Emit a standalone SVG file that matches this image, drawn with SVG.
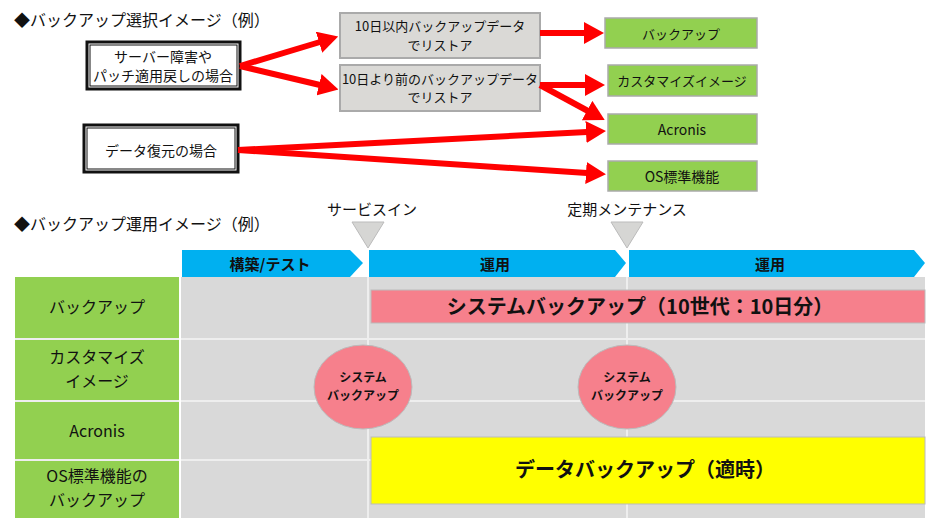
<svg xmlns="http://www.w3.org/2000/svg" width="930" height="524" viewBox="0 0 930 524">
<style>
text{font-family:"Noto Sans CJK JP","Liberation Sans",sans-serif;fill:#111}
.t{font-size:16px}
.s{font-size:13px;text-anchor:middle}
.m{font-size:14px;text-anchor:middle}
.l{font-size:16px;text-anchor:middle}
.g{fill:#dad9d6;stroke:#aaa;stroke-width:2}
.gr{fill:#92d050;stroke:#aaa;stroke-width:1.5}
.b{font-weight:bold;text-anchor:middle}
.a{stroke:#f00;stroke-width:6;fill:none}
</style>
<defs><marker id="ah" markerWidth="20" markerHeight="22" refX="1" refY="11" orient="auto" markerUnits="userSpaceOnUse"><path d="M0,0L20,11L0,22z" fill="#f00"/></marker></defs>
<rect width="930" height="524" fill="#fff"/>
<text class="t" x="14" y="26">◆バックアップ選択イメージ（例）</text>
<g id="n1"><rect x="87" y="42" width="153" height="47" fill="#fff" stroke="#111" stroke-width="3"/><rect x="90" y="45" width="147" height="41" fill="none" stroke="#111" stroke-width="1"/><text class="m" x="163" y="62">サーバー障害や</text><text class="m" x="163" y="81">パッチ適用戻しの場合</text></g>
<g id="n2"><rect x="84" y="125" width="154" height="47" fill="#fff" stroke="#111" stroke-width="3"/><rect x="87" y="128" width="148" height="41" fill="none" stroke="#111" stroke-width="1"/><text class="m" x="161" y="156">データ復元の場合</text></g>
<g id="n3"><rect class="g" x="340" y="13" width="200" height="45"/><text class="s" x="440" y="31">10日以内バックアップデータ</text><text class="s" x="440" y="50">でリストア</text></g>
<g id="n4"><rect class="g" x="340" y="65" width="200" height="46"/><text class="s" x="440" y="84">10日より前のバックアップデータ</text><text class="s" x="440" y="102">でリストア</text></g>
<g id="n5"><rect class="gr" x="605" y="18" width="152" height="30"/><text class="s" x="681" y="39">バックアップ</text></g>
<g id="n6"><rect class="gr" x="608" y="65" width="149" height="31"/><text class="s" x="682" y="86">カスタマイズイメージ</text></g>
<g id="n7"><rect class="gr" x="608" y="114" width="149" height="30"/><text class="m" x="682" y="135">Acronis</text></g>
<g id="n8"><rect class="gr" x="608" y="161" width="149" height="30"/><text class="m" x="682" y="182">OS標準機能</text></g>
<g id="connectors">
<path class="a" marker-end="url(#ah)" d="M240,66L320,42"/>
<path class="a" marker-end="url(#ah)" d="M240,66L320,85"/>
<path class="a" marker-end="url(#ah)" d="M540,33L585,33"/>
<path class="a" marker-end="url(#ah)" d="M540,85L586,85"/>
<path class="a" marker-end="url(#ah)" d="M540,85L588,111"/>
<path class="a" marker-end="url(#ah)" d="M238,150L587,132"/>
<path class="a" marker-end="url(#ah)" d="M238,150L587,173"/>
</g>
<text class="t" x="14" y="230">◆バックアップ運用イメージ（例）</text>
<g id="timeline">
<rect x="181" y="277" width="744" height="241" fill="#d9d9d9"/>
<path d="M368,277V518M627,277V518M181,339H925M181,401H925M181,460H925" stroke="#eee" stroke-width="2"/>
<rect x="15" y="277" width="164" height="241" fill="#92d050"/>
<path d="M15,339H179M15,401H179M15,460H179" stroke="#eee" stroke-width="2"/>
<text class="l" x="97" y="313">バックアップ</text>
<text class="l" x="97" y="363">カスタマイズ</text>
<text class="l" x="97" y="387">イメージ</text>
<text class="l" x="97" y="437">Acronis</text>
<text class="l" x="97" y="482">OS標準機能の</text>
<text class="l" x="97" y="506">バックアップ</text>
<path d="M182,250H350L363,263L350,277H182z" fill="#00b0f0"/>
<path d="M369,250H615L626,263L615,277H369z" fill="#00b0f0"/>
<path d="M629,250H914L925,263L914,277H629z" fill="#00b0f0"/>
<text class="b" x="270" y="270" style="font-size:15px">構築/テスト</text>
<text class="b" x="495" y="270" style="font-size:15px">運用</text>
<text class="b" x="770" y="270" style="font-size:15px">運用</text>
<path d="M352,222H384L368,248z" fill="#d6d6d4" stroke="#bbb"/>
<path d="M611,222H643L627,248z" fill="#d6d6d4" stroke="#bbb"/>
<text class="m" x="372" y="215" style="font-size:15px">サービスイン</text>
<text class="m" x="627" y="215" style="font-size:15px">定期メンテナンス</text>
<rect x="371" y="290" width="554" height="33" fill="#f6808c" stroke="#bbb"/>
<text class="b" x="640" y="314" style="font-size:20px">システムバックアップ（10世代：10日分）</text>
<rect x="371" y="437" width="554" height="67" fill="#ffff00" stroke="#bbb"/>
<text class="b" x="645" y="477" style="font-size:20px">データバックアップ（適時）</text>
<ellipse cx="363" cy="387" rx="49" ry="42" fill="#f6808c" stroke="#bbb"/>
<ellipse cx="627" cy="387" rx="49" ry="42" fill="#f6808c" stroke="#bbb"/>
<text class="b" x="363" y="382" style="font-size:12px">システム</text>
<text class="b" x="363" y="400" style="font-size:12px">バックアップ</text>
<text class="b" x="627" y="382" style="font-size:12px">システム</text>
<text class="b" x="627" y="400" style="font-size:12px">バックアップ</text>
</g>
</svg>
